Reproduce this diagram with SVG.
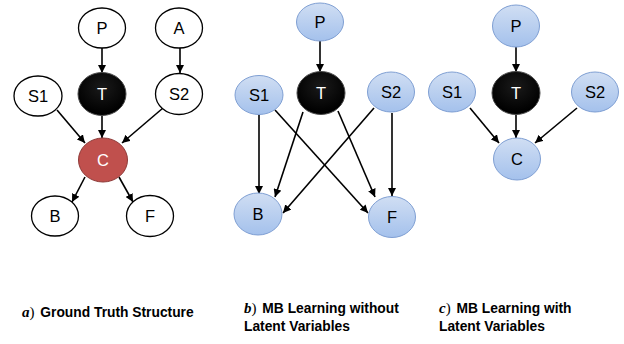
<svg xmlns="http://www.w3.org/2000/svg" width="624" height="344" viewBox="0 0 624 344">
  <defs>
    <linearGradient id="blueFill" x1="0" y1="0" x2="0" y2="1">
      <stop offset="0" stop-color="#d0def3"/>
      <stop offset="1" stop-color="#a4c1ec"/>
    </linearGradient>
    <radialGradient id="blackFill" cx="0.5" cy="0.35" r="0.6">
      <stop offset="0" stop-color="#1a1a1a"/>
      <stop offset="1" stop-color="#000000"/>
    </radialGradient>
    <marker id="arrow" viewBox="0 0 10 10" refX="10" refY="5" markerWidth="8" markerHeight="8" markerUnits="userSpaceOnUse" orient="auto">
      <path d="M0,0 L10,5 L0,10 z" fill="#000"/>
    </marker>
  </defs>
  <style>
    .white ellipse { fill: #ffffff; stroke: #000000; stroke-width: 1.3; }
    .blue ellipse { fill: url(#blueFill); stroke: #7f9fd3; stroke-width: 1; }
    .dark ellipse { fill: url(#blackFill); stroke: #4a4a4a; stroke-width: 1; }
    .red ellipse { fill: #c0504d; stroke: #8e3a38; stroke-width: 1; }
    .lbl { font-family: "Liberation Sans", Arial, sans-serif; font-size: 16.5px; text-anchor: middle; fill: #000; }
    .dark text, .red text { fill: #ffffff; }
    .edges line { stroke: #000; stroke-width: 1.6; marker-end: url(#arrow); }
    .cap { font-family: "Liberation Sans", Arial, sans-serif; font-size: 13.8px; font-weight: bold; fill: #000; }
    .it { font-family: "Liberation Serif", "Times New Roman", serif; font-style: italic; font-weight: bold; font-size: 15px; }
    .par { font-family: "Liberation Serif", "Times New Roman", serif; font-weight: normal; font-size: 15px; }
  </style>

  <!-- connectors -->
  <g id="connectors" class="edges">
    <!-- a) ground truth -->
    <line x1="102" y1="48" x2="102" y2="73"/>
    <line x1="180" y1="48" x2="180" y2="73"/>
    <line x1="57" y1="110" x2="85" y2="143"/>
    <line x1="102" y1="116" x2="102" y2="138"/>
    <line x1="163" y1="108" x2="122" y2="143"/>
    <line x1="85" y1="177" x2="72" y2="202"/>
    <line x1="119" y1="177" x2="133" y2="202"/>
    <!-- b) without latent variables -->
    <line x1="320" y1="41" x2="320" y2="72"/>
    <line x1="259" y1="115" x2="259" y2="194"/>
    <line x1="275" y1="110" x2="368" y2="213"/>
    <line x1="303" y1="112" x2="275" y2="197"/>
    <line x1="338" y1="111" x2="375" y2="197"/>
    <line x1="374" y1="108" x2="283" y2="213"/>
    <line x1="392" y1="113" x2="392" y2="196"/>
    <!-- c) with latent variables -->
    <line x1="516" y1="47" x2="516" y2="72"/>
    <line x1="516" y1="115" x2="516" y2="138"/>
    <line x1="470" y1="108" x2="499" y2="143"/>
    <line x1="577" y1="108" x2="535" y2="143"/>
  </g>

  <!-- a) ground truth structure -->
  <g id="a-P" class="white"><ellipse cx="102" cy="28" rx="23.5" ry="20"/><text class="lbl" x="102" y="34">P</text></g>
  <g id="a-A" class="white"><ellipse cx="179" cy="28" rx="23.5" ry="20"/><text class="lbl" x="179" y="34">A</text></g>
  <g id="a-S1" class="white"><ellipse cx="38" cy="96" rx="24" ry="20"/><text class="lbl" x="38" y="102">S1</text></g>
  <g id="a-T" class="dark"><ellipse cx="102" cy="94" rx="24" ry="21.5"/><text class="lbl" x="102" y="100">T</text></g>
  <g id="a-S2" class="white"><ellipse cx="179" cy="94" rx="23.5" ry="20.5"/><text class="lbl" x="179" y="100">S2</text></g>
  <g id="a-C" class="red"><ellipse cx="103" cy="160" rx="24.5" ry="22"/><text class="lbl" x="103" y="166">C</text></g>
  <g id="a-B" class="white"><ellipse cx="55" cy="216" rx="23.5" ry="20"/><text class="lbl" x="55" y="222">B</text></g>
  <g id="a-F" class="white"><ellipse cx="150" cy="216" rx="23.5" ry="20.5"/><text class="lbl" x="150" y="222">F</text></g>

  <!-- b) MB learning without latent variables -->
  <g id="b-P" class="blue"><ellipse cx="320" cy="22" rx="23.5" ry="19"/><text class="lbl" x="320" y="28">P</text></g>
  <g id="b-S1" class="blue"><ellipse cx="259" cy="95" rx="24" ry="19.5"/><text class="lbl" x="259" y="101">S1</text></g>
  <g id="b-T" class="dark"><ellipse cx="321" cy="93" rx="24" ry="21.5"/><text class="lbl" x="321" y="99">T</text></g>
  <g id="b-S2" class="blue"><ellipse cx="391" cy="92" rx="23.5" ry="20"/><text class="lbl" x="391" y="98">S2</text></g>
  <g id="b-B" class="blue"><ellipse cx="258" cy="214" rx="24" ry="21"/><text class="lbl" x="258" y="220">B</text></g>
  <g id="b-F" class="blue"><ellipse cx="392" cy="217" rx="23.5" ry="20.5"/><text class="lbl" x="392" y="223">F</text></g>

  <!-- c) MB learning with latent variables -->
  <g id="c-P" class="blue"><ellipse cx="516" cy="26" rx="23.5" ry="21"/><text class="lbl" x="516" y="32">P</text></g>
  <g id="c-S1" class="blue"><ellipse cx="452" cy="92" rx="23.5" ry="20"/><text class="lbl" x="452" y="98">S1</text></g>
  <g id="c-T" class="dark"><ellipse cx="516" cy="93" rx="24" ry="21.5"/><text class="lbl" x="516" y="99">T</text></g>
  <g id="c-S2" class="blue"><ellipse cx="595" cy="92" rx="23.5" ry="20"/><text class="lbl" x="595" y="98">S2</text></g>
  <g id="c-C" class="blue"><ellipse cx="517" cy="159" rx="23.5" ry="21"/><text class="lbl" x="517" y="165">C</text></g>

  <!-- captions -->
  <g id="captions">
    <text class="cap" x="22" y="317"><tspan class="it">a</tspan><tspan class="par">)</tspan> <tspan dx="2">Ground Truth Structure</tspan></text>
    <text class="cap" x="244" y="313"><tspan class="it">b</tspan><tspan class="par">)</tspan> <tspan dx="2">MB Learning without</tspan></text>
    <text class="cap" x="244" y="331">Latent Variables</text>
    <text class="cap" x="439" y="313"><tspan class="it">c</tspan><tspan class="par">)</tspan> <tspan dx="2">MB Learning with</tspan></text>
    <text class="cap" x="439" y="331">Latent Variables</text>
  </g>
</svg>
